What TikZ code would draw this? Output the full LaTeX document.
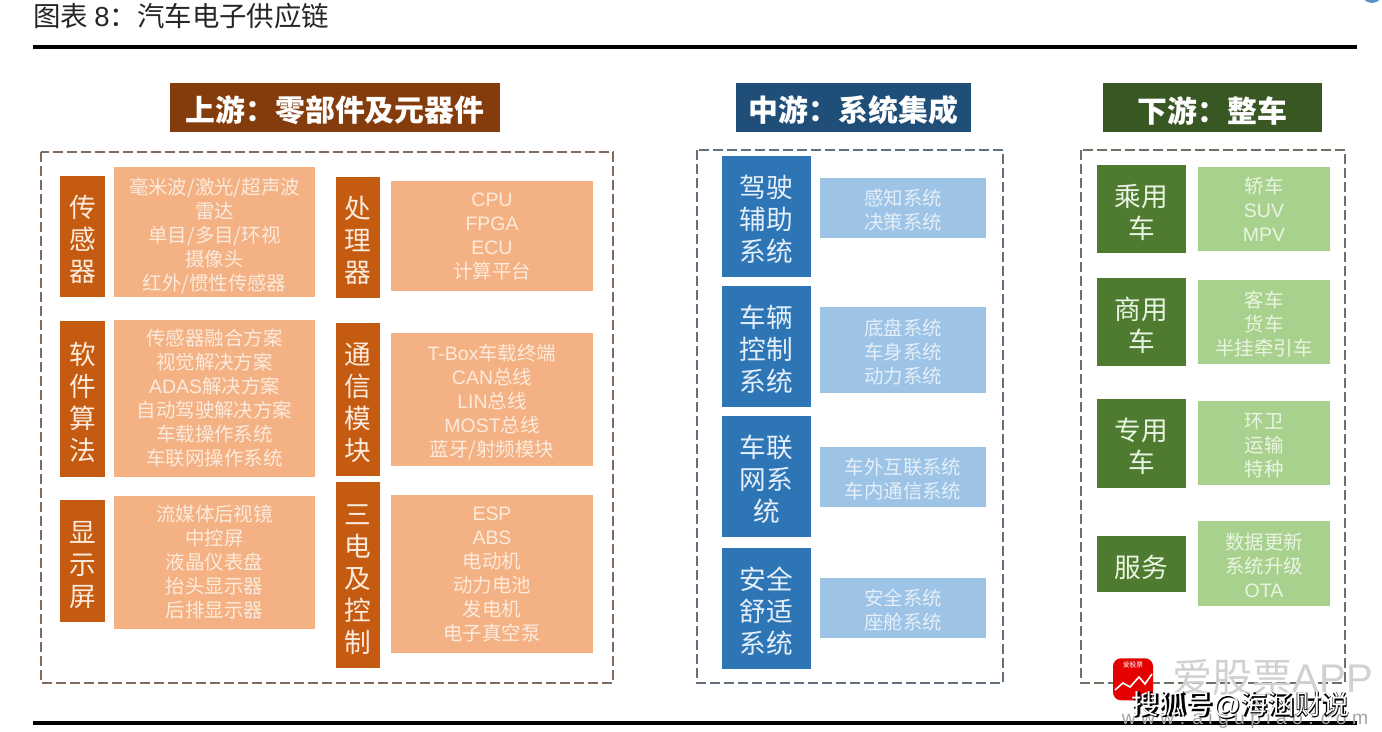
\documentclass[tikz,border=0pt]{standalone}
\usepackage{fontspec}
\setmainfont{Noto Sans CJK SC}
\newfontfamily\latfont{Liberation Sans}
\newcommand{\lat}[1]{{\latfont #1}}
\newcommand{\dn}{\rule{0pt}{1.08em}}
\newcommand{\wcolon}{\char"FF1A\relax}
\definecolor{upDark}{HTML}{C55A11}
\definecolor{upLight}{HTML}{F4B183}
\definecolor{upHead}{HTML}{843C0C}
\definecolor{upText}{HTML}{FCEBDD}
\definecolor{midDark}{HTML}{2E75B6}
\definecolor{midLight}{HTML}{9DC3E6}
\definecolor{midHead}{HTML}{1F4E79}
\definecolor{midText}{HTML}{E4EFF9}
\definecolor{lowDark}{HTML}{4F7B30}
\definecolor{lowLight}{HTML}{A9D18E}
\definecolor{lowHead}{HTML}{385723}
\definecolor{lowText}{HTML}{EAF4E2}
\begin{document}
\begin{tikzpicture}[
		x=0.75pt,y=-0.75pt,
		size/.style 2 args={minimum width=#1*0.75pt,minimum height=#2*0.75pt},
		every node/.style={inner sep=0pt,align=center},
		head/.style={text=white,font=\fontsize{22.4}{26}\bfseries\selectfont,execute at begin node={\rule{0pt}{24.2pt}}},
		name box/.style={font=\fontsize{20}{24}\selectfont},
		list box/.style={font=\fontsize{14.6}{18}\selectfont},
		frame/.style={draw,line width=1pt,dash pattern=on 7.5pt off 3pt}]
		
		\useasboundingbox (0,0) rectangle (1382,732);
		\fill[white] (0,0) rectangle (1382,732);
		
		% header
		\node[anchor=west,font=\fontsize{20.6}{24}\selectfont,text=black!85] (caption) at (33,16) {图表 \lat{8}\wcolon 汽车电子供应链};
		\coordinate (topL) at (33,47);
		\coordinate (topR) at (1357,47);
		\coordinate (botL) at (33,723);
		\coordinate (botR) at (1357,723);
		\draw[line width=2.4pt] (topL) -- (topR);
		\draw[line width=2.4pt] (botL) -- (botR);
		\fill[midDark!80] (1372,-8) circle (11);
		
		% dashed frames
		\draw[frame,draw=upHead!30!gray] (41,152) rectangle (613,683);
		\draw[frame,draw=midHead!30!gray] (697,150) rectangle (1003,683);
		\draw[frame,draw=lowHead!30!gray] (1081,150) rectangle (1345,683);
		
		% upstream
		\node[head,fill=upHead,size={330}{49}] (upTitle) at (335,107.5) {上游\wcolon 零部件及元器件};
		
		\node[name box,fill=upDark,text=upText,size={45}{121}] (sensor) at (82.5,236.5) {\dn 传\\感\\器};
		\node[list box,fill=upLight,text=upText,size={201}{130}] (sensorList) at (214.5,232) {\rule{0pt}{1.3em}毫米波/激光/超声波\\雷达\\单目/多目/环视\\摄像头\\红外/惯性传感器};
		\node[name box,fill=upDark,text=upText,size={45}{156}] (soft) at (82.5,399) {\dn 软\\件\\算\\法};
		\node[list box,fill=upLight,text=upText,size={201}{157}] (softList) at (214.5,398.5) {传感器融合方案\\视觉解决方案\\\lat{ADAS}解决方案\\自动驾驶解决方案\\车载操作系统\\车联网操作系统};
		\node[name box,fill=upDark,text=upText,size={45}{122}] (screen) at (82.5,561) {\dn 显\\示\\屏};
		\node[list box,fill=upLight,text=upText,size={201}{133}] (screenList) at (214.5,562.5) {流媒体后视镜\\中控屏\\液晶仪表盘\\抬头显示器\\后排显示器};
		
		\node[name box,fill=upDark,text=upText,size={44}{121}] (proc) at (358,237.5) {\dn 处\\理\\器};
		\node[list box,fill=upLight,text=upText,size={202}{110}] (procList) at (492,236) {\lat{CPU}\\\lat{FPGA}\\\lat{ECU}\\计算平台};
		\node[name box,fill=upDark,text=upText,size={44}{153}] (comm) at (358,399.5) {\dn 通\\信\\模\\块};
		\node[list box,fill=upLight,text=upText,size={202}{133}] (commList) at (492,399.5) {\dn\lat{T-Box}车载终端\\\lat{CAN}总线\\\lat{LIN}总线\\\lat{MOST}总线\\蓝牙/射频模块};
		\node[name box,fill=upDark,text=upText,size={44}{186}] (power) at (358,575) {\dn 三\\电\\及\\控\\制};
		\node[list box,fill=upLight,text=upText,size={202}{158}] (powerList) at (492,574) {\lat{ESP}\\\lat{ABS}\\电动机\\动力电池\\发电机\\电子真空泵};
		
		% midstream
		\node[head,fill=midHead,size={235}{49}] (midTitle) at (853.5,107.5) {中游\wcolon 系统集成};
		
		\node[name box,fill=midDark,text=midText,size={89}{121}] (assist) at (766.5,216.5) {\dn 驾驶\\辅助\\系统};
		\node[list box,fill=midLight,text=midText,size={166}{60}] (assistList) at (903,208) {\dn 感知系统\\决策系统};
		\node[name box,fill=midDark,text=midText,size={89}{121}] (vehicle) at (766.5,346.5) {\dn 车辆\\控制\\系统};
		\node[list box,fill=midLight,text=midText,size={166}{86}] (vehicleList) at (903,350) {\dn 底盘系统\\车身系统\\动力系统};
		\node[name box,fill=midDark,text=midText,size={89}{121}] (iov) at (766.5,476.5) {\dn 车联\\网系\\统};
		\node[list box,fill=midLight,text=midText,size={166}{60}] (iovList) at (903,477) {\dn 车外互联系统\\车内通信系统};
		\node[name box,fill=midDark,text=midText,size={89}{121}] (safe) at (766.5,608.5) {\dn 安全\\舒适\\系统};
		\node[list box,fill=midLight,text=midText,size={166}{60}] (safeList) at (903,608) {\dn 安全系统\\座舱系统};
		
		% downstream
		\node[head,fill=lowHead,size={219}{49}] (lowTitle) at (1212.5,107.5) {下游\wcolon 整车};
		
		\node[name box,fill=lowDark,text=lowText,size={89}{88}] (car) at (1141.5,209) {\dn 乘用\\车};
		\node[list box,fill=lowLight,text=lowText,size={132}{84}] (carList) at (1264,209) {轿车\\\lat{SUV}\\\lat{MPV}};
		\node[name box,fill=lowDark,text=lowText,size={89}{88}] (truck) at (1141.5,322) {\dn 商用\\车};
		\node[list box,fill=lowLight,text=lowText,size={132}{84}] (truckList) at (1264,322) {\dn 客车\\货车\\半挂牵引车};
		\node[name box,fill=lowDark,text=lowText,size={89}{89}] (special) at (1141.5,443.5) {\dn 专用\\车};
		\node[list box,fill=lowLight,text=lowText,size={132}{84}] (specialList) at (1264,443) {\dn 环卫\\运输\\特种};
		\node[name box,fill=lowDark,text=lowText,size={89}{56}] (service) at (1141.5,564) {\dn 服务};
		\node[list box,fill=lowLight,text=lowText,size={132}{85}] (serviceList) at (1264,563.5) {\dn 数据更新\\系统升级\\\lat{OTA}};
		
		% watermark
		\node[fill=red!90!black,rounded corners=6pt,size={40}{42},text=white,anchor=north,font=\fontsize{5}{6}\selectfont,text depth=30*0.75pt] (logo) at (1133,658) {爱股票};
		\draw[white,line width=1.2pt] (1115,690) -- (1123,683) -- (1130,687) -- (1139,677) -- (1145,684) -- (1152,674);
		\node[text=black!18,font=\fontsize{30}{34}\selectfont] (brand) at (1273,678) {爱股票\lat{APP}};
		\node[text=black!35,font=\fontsize{14.5}{18}\latfont] (site) at (1245,719) {w w w . a i g u p i a o . c o m};
		\node[text=black,font=\fontsize{20.4}{22}\bfseries\selectfont] (markShade) at (1241.5,705.5) {搜狐号\lat{@}海涵财说};
		\node[text=white,font=\fontsize{20.4}{22}\selectfont] (mark) at (1240.5,704.5) {搜狐号\lat{@}海涵财说};
		
\end{tikzpicture}
\end{document}
